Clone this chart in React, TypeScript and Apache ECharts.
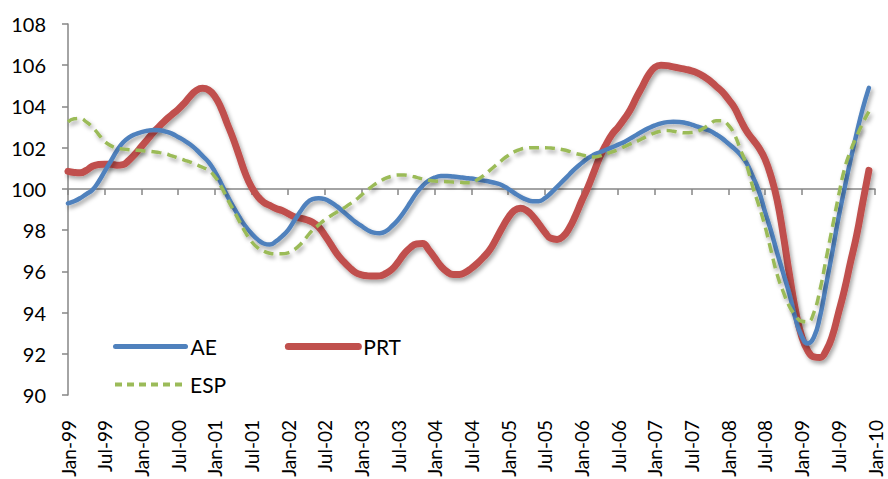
import React, { useEffect, useRef } from "react";
import * as echarts from "echarts";

const MONTHS = ["Jan", "Feb", "Mar", "Apr", "May", "Jun", "Jul", "Aug", "Sep", "Oct", "Nov", "Dec"];
const YEARS = ["99", "00", "01", "02", "03", "04", "05", "06", "07", "08", "09", "10"];

const CATEGORIES: string[] = [];
YEARS.forEach((y) => MONTHS.forEach((m) => CATEGORIES.push(`${m}-${y}`)));
CATEGORIES.splice(133);

const Y_MIN = 90;
const Y_MAX = 108;
const Y_STEP = 2;
const REF_LINE = 100;

const AE = [
  99.3, 99.4, 99.55, 99.75, 99.95, 100.35, 100.85, 101.35, 101.85, 102.25, 102.5, 102.65,
  102.75, 102.82, 102.86, 102.84, 102.78, 102.68, 102.52, 102.35, 102.15, 101.9, 101.6, 101.3,
  100.85, 100.3, 99.7, 99.15, 98.65, 98.2, 97.85, 97.55, 97.35, 97.3, 97.45, 97.7,
  98.0, 98.45, 98.9, 99.3, 99.5, 99.55, 99.5, 99.35, 99.15, 98.9, 98.65, 98.4,
  98.2, 98.0, 97.88, 97.85, 97.95, 98.2, 98.5, 98.9, 99.35, 99.8, 100.15, 100.4,
  100.55, 100.62, 100.63, 100.6, 100.57, 100.53, 100.5, 100.45, 100.4, 100.35, 100.28, 100.18,
  100.0, 99.8, 99.62, 99.48, 99.4, 99.4, 99.55, 99.8, 100.1, 100.4, 100.7, 101.0,
  101.25, 101.48, 101.65, 101.78, 101.9, 102.02, 102.15, 102.28, 102.45, 102.62, 102.8, 102.95,
  103.08, 103.18, 103.24, 103.26, 103.25, 103.2, 103.12, 103.02, 102.92, 102.82, 102.65, 102.45,
  102.2, 101.95, 101.65, 101.25, 100.6, 99.9, 98.9, 97.95, 96.9, 95.9, 94.9, 93.7,
  92.85, 92.5, 92.8, 93.8, 95.35, 96.9, 98.55, 100.0, 101.4, 102.7, 103.9, 104.9,
];

const PRT = [
  100.85, 100.8, 100.78, 100.9, 101.1, 101.18, 101.2, 101.2, 101.15, 101.18, 101.4, 101.7,
  102.05, 102.4, 102.75, 103.05, 103.35, 103.6, 103.85, 104.15, 104.5, 104.78, 104.88, 104.8,
  104.5, 103.95, 103.2, 102.45, 101.6, 100.75, 100.1, 99.65, 99.35, 99.2, 99.05, 98.95,
  98.8, 98.65, 98.58, 98.5, 98.38, 98.15, 97.75, 97.3, 96.85, 96.5, 96.2, 95.95,
  95.83, 95.78, 95.77, 95.78, 95.9, 96.1, 96.45, 96.85, 97.15, 97.33, 97.35, 97.05,
  96.65, 96.25, 95.98, 95.85, 95.85, 95.95, 96.15, 96.4, 96.7, 97.05, 97.55, 98.1,
  98.6, 98.95, 99.06, 98.95, 98.68, 98.3, 97.9, 97.6, 97.55, 97.7, 98.1, 98.7,
  99.4, 100.05, 100.8, 101.55, 102.15, 102.65, 103.0, 103.4, 103.85, 104.45, 105.0, 105.55,
  105.9, 106.0, 105.98, 105.92, 105.86, 105.8, 105.73, 105.62, 105.45, 105.25, 104.98, 104.72,
  104.35, 103.95, 103.35, 102.8, 102.4, 102.0, 101.45, 100.6, 99.45, 97.75, 95.85, 94.1,
  92.85, 92.15, 91.85, 91.82, 92.15, 92.85, 93.95, 95.1, 96.45, 97.75, 99.35, 100.9,
];

const ESP = [
  103.25, 103.4, 103.42, 103.25, 103.0, 102.65, 102.3, 102.1, 101.98, 101.93, 101.9, 101.88,
  101.86, 101.83, 101.8, 101.76, 101.7, 101.6, 101.5, 101.4, 101.3, 101.18, 101.05, 100.9,
  100.6, 100.15, 99.55, 99.0, 98.45, 97.9, 97.45, 97.15, 96.98, 96.88, 96.85, 96.85,
  96.9, 97.05, 97.3, 97.65, 98.0, 98.25, 98.5, 98.7, 98.88, 99.05, 99.25, 99.45,
  99.7, 99.95, 100.18, 100.36, 100.52, 100.62, 100.67, 100.67, 100.63, 100.56, 100.48, 100.42,
  100.38, 100.36, 100.35, 100.33, 100.32, 100.3, 100.3, 100.45, 100.65, 100.9, 101.15, 101.4,
  101.62, 101.8, 101.92, 101.98, 102.0, 102.0, 102.0, 101.98, 101.95, 101.9, 101.82, 101.72,
  101.65, 101.58, 101.55, 101.6, 101.7, 101.8, 101.9, 102.05, 102.18, 102.3, 102.45, 102.6,
  102.72, 102.8, 102.83, 102.8, 102.75, 102.72, 102.73, 102.8, 102.95, 103.15, 103.3, 103.3,
  103.1, 102.65, 101.9, 101.15, 100.1, 99.2, 98.2, 97.0, 95.85, 95.0, 94.3, 93.85,
  93.58, 93.55, 94.0, 95.1, 96.6, 98.1, 99.6, 100.95, 101.85, 102.55, 103.2, 103.75,
];

const FONT = "Lato, 'Open Sans', sans-serif";
const AXIS_GRAY = "#868686";
const BLUE = "#4F81BD";
const RED = "#C0504D";
const GREEN = "#9BBB59";

const shadow = {
  shadowColor: "rgba(0,0,0,0.35)",
  shadowBlur: 4,
  shadowOffsetX: 2,
  shadowOffsetY: 3,
};

export default function App() {
  const ref = useRef<HTMLDivElement>(null);

  useEffect(() => {
    if (!ref.current) return;
    const chart = echarts.init(ref.current, null, { renderer: "svg" });
    const gridTop = 24;
    const gridBottom = 84;
    const plotH = 479 - gridTop - gridBottom;
    const refOffset = -((REF_LINE - Y_MIN) / (Y_MAX - Y_MIN)) * plotH;

    const legendText = { fontFamily: FONT, fontSize: 21, color: "#000" };

    chart.setOption({
      animation: false,
      backgroundColor: "#ffffff",
      textStyle: { fontFamily: FONT },
      grid: {
        left: 68,
        right: 13,
        top: gridTop,
        bottom: gridBottom,
        containLabel: false,
        outerBoundsMode: "none",
      },
      legend: [
        {
          data: [
            { name: "AE", lineStyle: { width: 5, color: BLUE, cap: "round" } },
            { name: "PRT", lineStyle: { width: 7, color: RED, cap: "round" } },
          ],
          left: 108,
          top: 331,
          orient: "horizontal",
          itemWidth: 70,
          itemHeight: 14,
          itemGap: 68,
          itemStyle: { opacity: 0 },
          textStyle: legendText,
        },
        {
          data: [{ name: "ESP", lineStyle: { width: 4, color: GREEN, type: [7, 5] } }],
          left: 108,
          top: 369,
          orient: "horizontal",
          itemWidth: 70,
          itemHeight: 14,
          itemStyle: { opacity: 0 },
          textStyle: legendText,
        },
      ],
      xAxis: [
        {
          type: "category",
          data: CATEGORIES,
          boundaryGap: false,
          position: "bottom",
          axisLine: { show: false },
          axisTick: { show: false },
          axisLabel: {
            interval: 5,
            rotate: 90,
            margin: 25,
            fontSize: 19,
            fontFamily: FONT,
            color: "#000",
          },
          splitLine: { show: false },
        },
        {
          type: "category",
          data: CATEGORIES,
          boundaryGap: false,
          position: "bottom",
          offset: refOffset,
          axisLine: { show: true, lineStyle: { color: AXIS_GRAY, width: 1.5 } },
          axisTick: {
            show: true,
            interval: 5,
            length: 6,
            lineStyle: { color: AXIS_GRAY, width: 1.5 },
          },
          axisLabel: { show: false },
          splitLine: { show: false },
        },
      ],
      yAxis: {
        type: "value",
        min: Y_MIN,
        max: Y_MAX,
        interval: Y_STEP,
        axisLine: { show: true, lineStyle: { color: AXIS_GRAY, width: 1.5 } },
        axisTick: { show: true, length: 6, lineStyle: { color: AXIS_GRAY, width: 1.5 } },
        axisLabel: { margin: 22, fontSize: 20, fontFamily: FONT, color: "#000" },
        splitLine: { show: false },
      },
      series: [
        {
          name: "AE",
          type: "line",
          data: AE,
          xAxisIndex: 0,
          smooth: true,
          symbol: "none",
          color: BLUE,
          lineStyle: { color: BLUE, width: 4.5, cap: "round", ...shadow },
          z: 3,
        },
        {
          name: "PRT",
          type: "line",
          data: PRT,
          xAxisIndex: 0,
          smooth: true,
          symbol: "none",
          color: RED,
          lineStyle: { color: RED, width: 7, cap: "round", ...shadow },
          z: 2,
        },
        {
          name: "ESP",
          type: "line",
          data: ESP,
          xAxisIndex: 0,
          smooth: true,
          symbol: "none",
          color: GREEN,
          lineStyle: { color: GREEN, width: 3.5, type: [10, 6], ...shadow },
          z: 4,
        },
      ],
    });
    return () => chart.dispose();
  }, []);

  return (
    <div
      ref={ref}
      style={{ position: "fixed", left: 0, top: 0, width: 888, height: 479, background: "#fff" }}
    />
  );
}
